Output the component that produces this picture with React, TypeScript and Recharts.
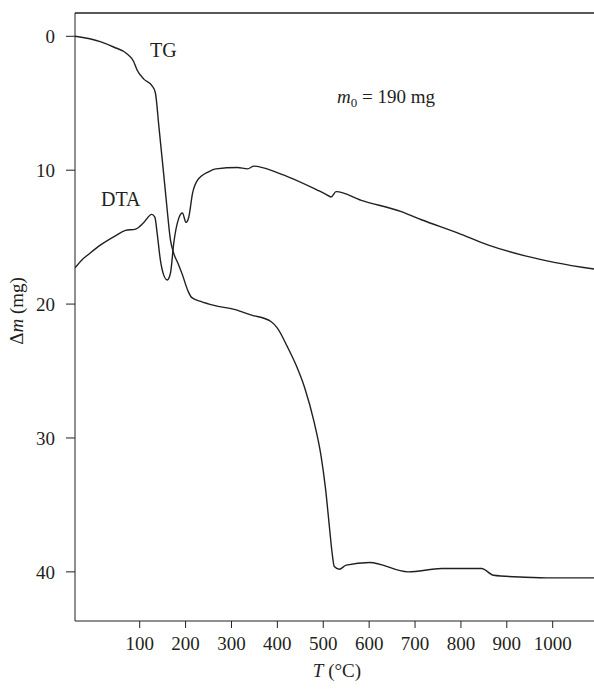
import React from 'react';
import { LineChart, Line, XAxis, YAxis, ReferenceLine } from 'recharts';

// TG curve (temperature °C, mass loss mg)
const tgTemps = [-41, 14, 43, 72, 87, 94, 109, 127, 134, 142, 152, 158, 167, 174, 184, 193, 205, 213, 233, 262, 306, 342, 386, 400, 422, 440, 460, 480, 495, 505, 513, 519, 524, 535, 550, 601, 685, 758, 845, 871, 940, 998, 1095];
const tgMass = [0, 0.4, 0.8, 1.3, 1.9, 2.5, 3.2, 3.7, 4.2, 6.8, 10.2, 12.3, 15.2, 16.2, 17.0, 17.8, 19.0, 19.5, 19.8, 20.1, 20.4, 20.8, 21.3, 21.8, 23.2, 24.5, 26.3, 28.8, 31.3, 33.8, 36.5, 38.5, 39.6, 39.8, 39.5, 39.3, 40.0, 39.75, 39.75, 40.25, 40.4, 40.45, 40.45];

// DTA curve, drawn on the same axis
const dtaTemps = [-41, -26, -12, 14, 47, 69, 91, 109, 126, 133, 138, 145, 152, 160, 167, 174, 185, 193, 201, 207, 215, 226, 251, 266, 313, 335, 349, 401, 488, 506, 517, 528, 583, 670, 714, 794, 860, 940, 1006, 1093];
const dtaMass = [17.3, 16.7, 16.3, 15.6, 14.9, 14.5, 14.4, 13.9, 13.3, 13.5, 14.7, 16.7, 17.8, 18.2, 17.7, 15.5, 13.6, 13.2, 13.9, 13.5, 11.75, 10.75, 10.1, 9.9, 9.8, 9.9, 9.7, 10.2, 11.5, 11.8, 12.0, 11.6, 12.25, 13.1, 13.7, 14.7, 15.6, 16.4, 16.9, 17.4];

const xTicks = [100, 200, 300, 400, 500, 600, 700, 800, 900, 1000];
const yTicks = [0, 10, 20, 30, 40];

const tgData = tgTemps.map((t, i) => ({ t, m: tgMass[i] }));
const dtaData = dtaTemps.map((t, i) => ({ t, m: dtaMass[i] }));

const FONT = '"Liberation Serif", "DejaVu Serif", serif';
const INK = '#231f20';

export default function App() {
  return (
    <div style={{ position: 'absolute', left: 0, top: 0, width: 594, height: 689, background: '#fff' }}>
      <LineChart width={594} height={689} margin={{ top: 13, right: 0, bottom: 0, left: 0 }}>
        <XAxis
          dataKey="t"
          type="number"
          domain={[-41, 1090]}
          allowDataOverflow
          ticks={xTicks}
          height={68}
          tickSize={7}
          tickMargin={9}
          stroke={INK}
          tick={{ fill: INK, fontSize: 19, fontFamily: FONT }}
        />
        <YAxis
          dataKey="m"
          type="number"
          reversed
          domain={[-1.74, 43.67]}
          allowDataOverflow
          ticks={yTicks}
          width={75}
          tickSize={9}
          tickMargin={11}
          stroke={INK}
          tick={{ fill: INK, fontSize: 19, fontFamily: FONT }}
        />
        <ReferenceLine y={-1.74} stroke={INK} strokeWidth={1.5} />
        <Line data={tgData} dataKey="m" type="monotone" stroke={INK} strokeWidth={1.4} dot={false} isAnimationActive={false} />
        <Line data={dtaData} dataKey="m" type="monotone" stroke={INK} strokeWidth={1.4} dot={false} isAnimationActive={false} />
      </LineChart>
      <svg width={594} height={689} style={{ position: 'absolute', left: 0, top: 0, pointerEvents: 'none' }}>
        <g fontFamily={FONT} fill={INK} fontSize={19}>
          <text x={150} y={57} fontSize={20}>TG</text>
          <text x={101} y={206} fontSize={20}>DTA</text>
          <text x={337} y={103}>
            <tspan fontStyle="italic">m</tspan>
            <tspan fontSize={13} dy={4}>0</tspan>
            <tspan dy={-4}> = 190 mg</tspan>
          </text>
          <text x={337} y={677} textAnchor="middle">
            <tspan fontStyle="italic">T</tspan> (°C)
          </text>
          <text transform="translate(23,311) rotate(-90)" textAnchor="middle">
            Δ<tspan fontStyle="italic">m</tspan> (mg)
          </text>
        </g>
      </svg>
    </div>
  );
}
